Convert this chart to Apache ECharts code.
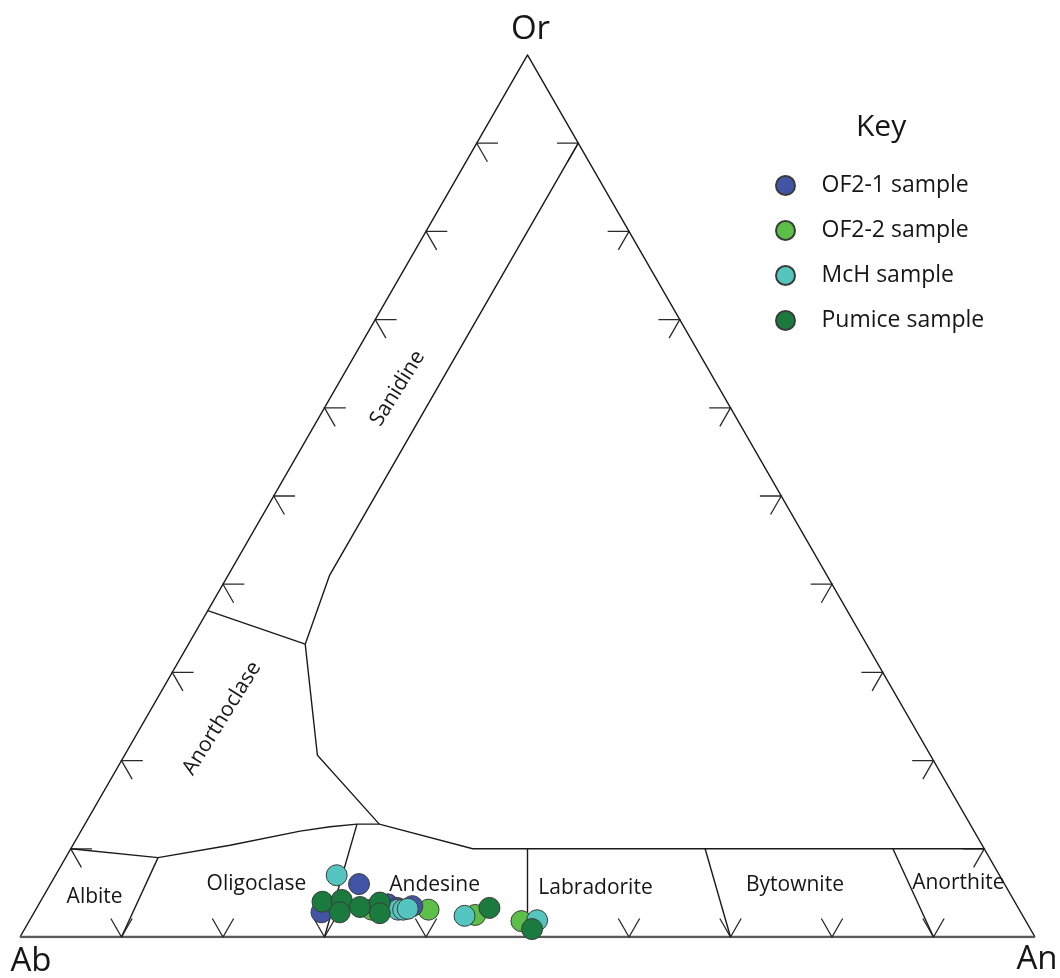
<!DOCTYPE html>
<html>
<head>
<meta charset="utf-8">
<script src="https://cdn.jsdelivr.net/npm/echarts@6/dist/echarts.min.js"></script>
<style>
  html, body { margin: 0; padding: 0; background: #ffffff; }
  #chart { width: 1060px; height: 978px; }
</style>
</head>
<body>
<div id="chart"></div>
<script>
// Feldspar classification ternary (Ab – An – Or).
// Sample compositions in mol %, each point as [Ab, An, Or].
const seriesNames = ['OF2-1 sample', 'OF2-2 sample', 'McH sample', 'Pumice sample'];
const seriesColors = ['#4254a6', '#5bbf48', '#55c5bf', '#1b7a3d'];

const of21 = [[63.6, 30.4, 6.0], [68.9, 28.3, 2.8], [61.9, 34.4, 3.7], [61.2, 35.5, 3.3], [59.6, 36.9, 3.5]];
const of22 = [[63.8, 33.1, 3.1], [58.2, 38.7, 3.1], [53.9, 43.6, 2.5], [49.7, 48.5, 1.8]];
const mch = [[65.3, 27.7, 7.0], [61.2, 35.7, 3.1], [60.7, 36.2, 3.1], [60.2, 36.6, 3.2], [55.0, 42.6, 2.4], [48.1, 50.0, 1.9]];
const pumice = [[68.2, 27.8, 4.0], [66.2, 29.6, 4.2], [67.1, 30.1, 2.8], [64.8, 31.8, 3.4],
                [62.6, 33.5, 3.9], [63.2, 34.1, 2.7], [52.1, 44.6, 3.3], [49.1, 50.0, 0.9]];

// Tick positions along every edge (%)
const tickSteps = [10, 20, 30, 40, 50, 60, 70, 80, 90];

// Field boundaries as [An, Or] (Ab is the remainder)
const sanidineBoundary = [[10, 90], [10, 41], [11.5, 33.2]];
const anorthoclaseTop = [[0, 37], [11.5, 33.2]];
const anorthoclaseSide = [[11.5, 33.2], [19, 20.6], [29, 12.8]];
const plagioclaseTop = [[0, 10], [9.1, 9.0], [15.5, 10.4], [21.6, 12.0], [24.3, 12.5],
                        [26.8, 12.8], [29, 12.8], [39.6, 10], [90, 10]];
const plagioclaseDividers = [
  [[9.1, 9.0], [10, 0]],
  [[26.8, 12.8], [30, 0]],
  [[45, 10], [50, 0]],
  [[62.5, 10], [70, 0]],
  [[81, 10], [90, 0]]
];

// Field names anchored at [An, Or], with text rotation
const fieldLabels = [
  { name: 'Sanidine', at: [6.1, 62.2], rotate: 58 },
  { name: 'Anorthoclase', at: [7.5, 24.8], rotate: 58 },
  { name: 'Albite', at: [5.1, 4.5], rotate: 0 },
  { name: 'Oligoclase', at: [20.3, 6.0], rotate: 0 },
  { name: 'Andesine', at: [37.9, 5.9], rotate: 0 },
  { name: 'Labradorite', at: [53.9, 5.6], rotate: 0 },
  { name: 'Bytownite', at: [73.4, 5.9], rotate: 0 },
  { name: 'Anorthite', at: [89.4, 6.1], rotate: 0 }
];

const FONT = '"Open Sans", "Noto Sans", sans-serif';
const INK = '#161616';

// ternary [An, Or] -> cartesian [x, y]
function anOr(p) { return [p[0] + p[1] / 2, p[1]]; }
// [Ab, An, Or] composition -> cartesian, normalised to 100
function comp(c) {
  const s = c[0] + c[1] + c[2];
  return anOr([c[1] / s * 100, c[2] / s * 100]);
}

// tick marks: two short arms parallel to the other two edges
const ARM = 2.1;
const tickPaths = [];
tickSteps.forEach(function (k) {
  // Ab–Or edge
  tickPaths.push({ coords: [anOr([ARM, k]), anOr([0, k]), anOr([ARM, k - ARM])] });
  // An–Or edge
  tickPaths.push({ coords: [anOr([100 - k - ARM, k]), anOr([100 - k, k]), anOr([100 - k, k - ARM])] });
  // Ab–An edge
  tickPaths.push({ coords: [anOr([k - ARM, ARM]), anOr([k, 0]), anOr([k, ARM])] });
});

const boundaryPaths = [sanidineBoundary, anorthoclaseTop, anorthoclaseSide, plagioclaseTop]
  .concat(plagioclaseDividers)
  .map(function (line) { return { coords: line.map(anOr) }; });

const sideEdges = [{ coords: [anOr([0, 0]), anOr([0, 100]), anOr([100, 0])] }];
const baseEdge = [{ coords: [anOr([0, 0]), anOr([100, 0])] }];

function linesSeries(data, color, width, z) {
  return {
    type: 'lines', coordinateSystem: 'cartesian2d', polyline: true, silent: true,
    data: data, z: z || 2,
    lineStyle: { color: color, width: width, opacity: 1 }
  };
}

const sampleSets = [of21, of22, mch, pumice];
// drawing order: OF2-2, OF2-1, McH, Pumice on top
const drawOrder = [1, 0, 2, 3];
const sampleSeries = drawOrder.map(function (i) {
  return {
    name: seriesNames[i], type: 'scatter', symbol: 'circle', symbolSize: 21,
    z: 5 + drawOrder.indexOf(i),
    itemStyle: { color: seriesColors[i], borderColor: '#3b3b3b', borderWidth: 1, opacity: 1 },
    data: sampleSets[i].map(comp)
  };
});

const fieldLabelSeries = {
  type: 'scatter', silent: true, symbolSize: 0, z: 4,
  itemStyle: { opacity: 1 },
  data: fieldLabels.map(function (f) {
    return {
      value: anOr(f.at),
      label: {
        show: true, position: 'inside', formatter: f.name, rotate: f.rotate,
        color: INK, fontFamily: FONT, fontSize: 21
      }
    };
  })
};

const vertexLabelSeries = {
  type: 'scatter', silent: true, symbolSize: 0, z: 4,
  itemStyle: { opacity: 1 },
  data: [
    { value: anOr([0, 0]), label: { formatter: 'Ab', offset: [11, 25] } },
    { value: anOr([100, 0]), label: { formatter: 'An', offset: [2, 23] } },
    { value: anOr([0, 100]), label: { formatter: 'Or', offset: [3, -25] } }
  ].map(function (d) {
    d.label.show = true; d.label.position = 'inside';
    d.label.color = INK; d.label.fontFamily = FONT; d.label.fontSize = 33;
    return d;
  })
};

const chart = echarts.init(document.getElementById('chart'), null, { renderer: 'canvas' });
chart.setOption({
  animation: false,
  backgroundColor: '#ffffff',
  title: {
    text: 'Key', left: 856, top: 112, padding: 0,
    textStyle: { color: INK, fontFamily: FONT, fontSize: 30, fontWeight: 'normal' }
  },
  legend: {
    data: seriesNames, orient: 'vertical', left: 775, top: 174, padding: 0,
    itemWidth: 22, itemHeight: 19, itemGap: 22,
    icon: 'path://M0,10a10,10 0 1,0 20,0a10,10 0 1,0 -20,0',
    textStyle: { color: INK, fontFamily: FONT, fontSize: 23, lineHeight: 19, padding: [0, 0, 0, 20] }
  },
  grid: { left: 20, right: 25, top: 55, bottom: 41 },
  xAxis: { type: 'value', min: 0, max: 100, show: false },
  yAxis: { type: 'value', min: 0, max: 100, show: false },
  series: [
    linesSeries(sideEdges, '#1a1a1a', 1.5, 2),
    linesSeries(baseEdge, '#5a5a5a', 2.5, 2),
    linesSeries(tickPaths, '#2a2a2a', 1.3, 2),
    linesSeries(boundaryPaths, '#1a1a1a', 1.4, 2),
    fieldLabelSeries,
    vertexLabelSeries
  ].concat(sampleSeries)
});
</script>
</body>
</html>
